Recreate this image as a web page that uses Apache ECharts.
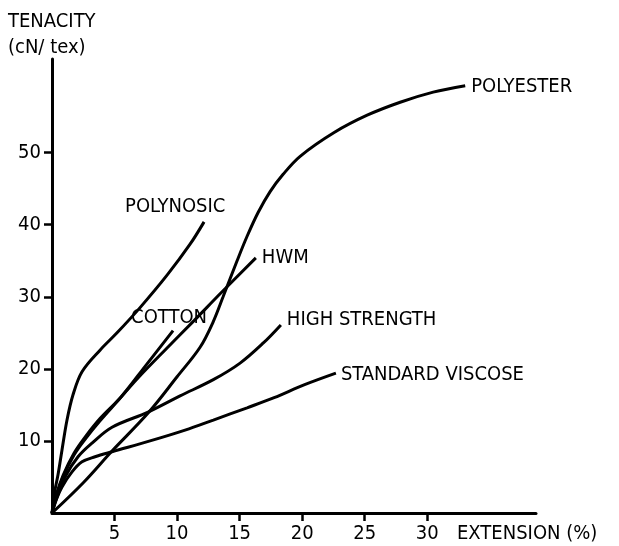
<!DOCTYPE html>
<html>
<head>
<meta charset="utf-8">
<script src="https://cdn.jsdelivr.net/npm/echarts@6/dist/echarts.min.js"></script>
<style>
html,body{margin:0;padding:0;background:#fff;}
#chart{width:619px;height:546px;}
</style>
</head>
<body>
<div id="chart"></div>
<script>
// ---- data (extension %, tenacity cN/tex) ----
var xTicks = [5, 10, 15, 20, 25, 30];
var yTicks = [10, 20, 30, 40, 50];

var polyester = [[0,0],[2.5,4.2],[4.8,8.6],[7.7,13.9],[10.0,18.9],[11.84,23.0],[12.88,26.5],[13.68,30.0],[14.8,35.0],[15.6,38.4],[16.48,41.7],[17.44,44.6],[18.48,47.0],[19.84,49.5],[22.56,52.8],[25.2,55.2],[27.84,57.0],[30.48,58.4],[33.04,59.3]];
var polynosic = [[0,0],[0.24,3.2],[0.48,5.3],[0.8,8.75],[1.2,12.9],[1.68,16.4],[2.4,19.6],[3.84,22.6],[5.2,25.0],[7.04,28.5],[9.2,33.0],[11.04,37.3],[12.16,40.4]];
var cotton = [[0,0],[0.32,2.4],[0.88,5.2],[1.76,8.3],[2.72,10.7],[3.84,13.1],[5.52,16.1],[7.6,20.7],[9.68,25.3]];
var hwm = [[0,0],[0.32,2.2],[0.88,5.0],[1.76,8.05],[2.72,10.4],[3.84,12.8],[5.28,15.6],[6.8,18.6],[9.2,22.9],[11.36,26.7],[13.6,30.7],[16.3,35.4]];
var highStrength = [[0,0],[0.4,2.2],[1.04,5.0],[2.08,7.8],[3.2,9.7],[4.8,11.9],[7.68,14.0],[10.24,16.25],[12.9,18.5],[15.04,20.8],[16.9,23.6],[18.3,26.1]];
var standardViscose = [[0,0],[0.24,1.4],[0.8,3.6],[1.6,5.7],[2.4,7.1],[3.44,7.8],[4.8,8.5],[7.84,10.0],[10.64,11.5],[12.9,12.9],[15.6,14.6],[17.76,16.0],[20.2,17.8],[22.7,19.4]];

var FONT = '"DejaVu Sans Condensed", "Liberation Sans Narrow", sans-serif';
var FS = 20;

function mk(name, data, offset) {
  return {
    name: name,
    type: 'line',
    data: data,
    smooth: 0.35,
    symbol: 'none',
    silent: true,
    lineStyle: { color: '#000', width: 3 },
    endLabel: {
      show: true,
      formatter: name,
      color: '#000',
      fontFamily: FONT,
      fontSize: FS,
      distance: 0,
      align: 'left',
      verticalAlign: 'middle',
      offset: offset
    }
  };
}

var chart = echarts.init(document.getElementById('chart'), null, { renderer: 'canvas' });
chart.setOption({
  animation: false,
  backgroundColor: '#fff',
  grid: { left: 52, top: 59, width: 484, bottom: 33, containLabel: false },
  xAxis: {
    type: 'value', min: 0, max: 38.7, interval: 5,
    axisLine: { show: true, lineStyle: { color: '#000', width: 3 } },
    axisTick: { show: true, customValues: xTicks, length: 8, lineStyle: { color: '#000', width: 2.5 } },
    axisLabel: { customValues: xTicks, color: '#000', fontFamily: FONT, fontSize: FS, margin: 11 },
    splitLine: { show: false }
  },
  yAxis: {
    type: 'value', min: 0, max: 63, interval: 10,
    axisLine: { show: true, lineStyle: { color: '#000', width: 3 } },
    axisTick: { show: true, customValues: yTicks, length: 8, lineStyle: { color: '#000', width: 2.5 } },
    axisLabel: { customValues: yTicks, color: '#000', fontFamily: FONT, fontSize: FS, margin: 11 },
    splitLine: { show: false }
  },
  graphic: [
    { type: 'text', left: 8, top: 12, style: { text: 'TENACITY', fill: '#000', font: FS + 'px ' + FONT } },
    { type: 'text', left: 8, top: 38, style: { text: '(cN/ tex)', fill: '#000', font: FS + 'px ' + FONT } },
    { type: 'text', left: 457, top: 524, style: { text: 'EXTENSION (%)', fill: '#000', font: FS + 'px ' + FONT } }
  ],
  series: [
    mk('POLYESTER', polyester, [6, 1]),
    mk('POLYNOSIC', polynosic, [-79, -15]),
    mk('COTTON', cotton, [-42, -13]),
    mk('HWM', hwm, [6, 0]),
    mk('HIGH STRENGTH', highStrength, [6, -5]),
    mk('STANDARD VISCOSE', standardViscose, [5, 2])
  ]
});
</script>
</body>
</html>
